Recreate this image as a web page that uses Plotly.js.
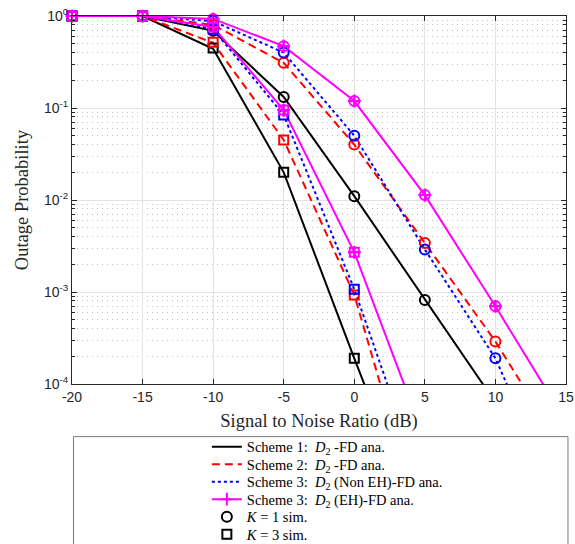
<!DOCTYPE html>
<html>
<head>
<meta charset="utf-8">
<script src="https://cdn.plot.ly/plotly-3.0.1.min.js"></script>
<style>
  html, body { margin: 0; padding: 0; background: #ffffff; }
  #chart { width: 575px; height: 544px; }
</style>
</head>
<body>
<div id="chart"></div>
<script>
// SNR grid (dB)
const snr = [-20, -15, -10, -5, 0, 5, 10, 15];

// Analytical outage probability, D2 full-duplex
const s1K1  = [1, 1, 0.69, 0.132, 0.011, 8.2e-4, 6.3e-5, 4.0e-6];
const s1K3  = [1, 1, 0.44, 0.020, 1.9e-4, 2.0e-6];
const s2K1  = [1, 1, 0.80, 0.31, 0.040, 0.0034, 2.9e-4, 1.7e-5];
const s2K3  = [1, 1, 0.51, 0.045, 9.3e-4, 2.2e-6];
const s3nK1 = [1, 1, 0.88, 0.40, 0.050, 0.0029, 1.9e-4, 3.5e-6];
const s3nK3 = [1, 1, 0.72, 0.084, 1.07e-3, 6.7e-6];
const s3eK1 = [1, 1, 0.93, 0.47, 0.119, 0.0113, 7.0e-4, 3.9e-5];
const s3eK3 = [1, 1, 0.76, 0.095, 0.0027, 2.5e-5];

// Monte-Carlo simulation points
const sim1K1  = [1, 1, 0.69, 0.132, 0.011, 8.2e-4];
const sim1K3  = [1, 1, 0.45, 0.020, 1.9e-4];
const sim2K1  = [1, 1, 0.80, 0.31, 0.040, 0.0034, 2.9e-4];
const sim2K3  = [1, 1, 0.52, 0.045, 9.3e-4];
const sim3nK1 = [1, 1, 0.88, 0.40, 0.050, 0.0029, 1.9e-4];
const sim3nK3 = [1, 1, 0.72, 0.084, 1.07e-3];
const sim3eK1 = [1, 1, 0.93, 0.47, 0.119, 0.0113, 7.0e-4];
const sim3eK3 = [1, 1, 0.76, 0.095, 0.0027];

// Axis ticks
const xTicks = [-20, -15, -10, -5, 0, 5, 10, 15];
const yTicks = [1e-4, 1e-3, 1e-2, 1e-1, 1];
const yTickText = ['10<sup>-4</sup>', '10<sup>-3</sup>', '10<sup>-2</sup>', '10<sup>-1</sup>', '10<sup>0</sup>'];

const legendNames = [
  'Scheme 1:  <i>D</i><sub>2</sub> -FD ana.',
  'Scheme 2:  <i>D</i><sub>2</sub> -FD ana.',
  'Scheme 3:  <i>D</i><sub>2</sub> (Non EH)-FD ana.',
  'Scheme 3:  <i>D</i><sub>2</sub> (EH)-FD ana.',
  '<i>K</i> = 1 sim.',
  '<i>K</i> = 3 sim.'
];

const BLACK = '#000000', RED = '#ff0000', BLUE = '#0000ff', MAG = '#ff00ff';
const YMIN = 1e-4;

const xs = arr => snr.slice(0, arr.length);
// keep only points inside the visible y-range (used for unclipped markers)
const inRange = arr => {
  const x = [], y = [];
  arr.forEach((v, i) => { if (v >= YMIN) { x.push(snr[i]); y.push(v); } });
  return { x, y };
};

const traces = [];

function anaLine(arr, color, dash, name, rank, show, withPlus) {
  const t = {
    x: xs(arr), y: arr, type: 'scatter',
    mode: withPlus ? 'lines+markers' : 'lines',
    line: { color: color, width: 2, dash: dash },
    name: name, legendgroup: name, showlegend: show, legendrank: rank,
    hoverinfo: 'x+y'
  };
  if (withPlus) {
    t.marker = { symbol: 'cross-thin-open', size: 9, color: color, line: { color: color, width: 2 } };
  }
  traces.push(t);
}

function simMarks(arr, color, symbol, size, name, rank, show) {
  const p = inRange(arr);
  traces.push({
    x: p.x, y: p.y, type: 'scatter', mode: 'markers', cliponaxis: false,
    marker: { symbol: symbol, size: size, color: color, line: { color: color, width: 2 } },
    name: name, showlegend: show, legendrank: rank, hoverinfo: 'x+y'
  });
}

// Scheme 1
anaLine(s1K1, BLACK, 'solid', legendNames[0], 1, true, false);
anaLine(s1K3, BLACK, 'solid', legendNames[0], 1, false, false);
// Scheme 2
anaLine(s2K1, RED, '8px,5px', legendNames[1], 2, true, false);
anaLine(s2K3, RED, '8px,5px', legendNames[1], 2, false, false);
// Scheme 3 (Non EH)
anaLine(s3nK1, BLUE, 'dot', legendNames[2], 3, true, false);
anaLine(s3nK3, BLUE, 'dot', legendNames[2], 3, false, false);
// Scheme 3 (EH)
anaLine(s3eK1, MAG, 'solid', legendNames[3], 4, true, true);
anaLine(s3eK3, MAG, 'solid', legendNames[3], 4, false, true);

// simulation markers
simMarks(sim1K1, BLACK, 'circle-open', 10, legendNames[4], 5, true);
simMarks(sim1K3, BLACK, 'square-open', 9, legendNames[5], 6, true);
simMarks(sim2K1, RED, 'circle-open', 10, 'S2 K1', 7, false);
simMarks(sim2K3, RED, 'square-open', 9, 'S2 K3', 7, false);
simMarks(sim3nK1, BLUE, 'circle-open', 10, 'S3n K1', 7, false);
simMarks(sim3nK3, BLUE, 'square-open', 9, 'S3n K3', 7, false);
simMarks(sim3eK1, MAG, 'circle-open', 10, 'S3e K1', 7, false);
simMarks(sim3eK3, MAG, 'square-open', 9, 'S3e K3', 7, false);
// plus markers of the EH curves, drawn unclipped on top
simMarks(s3eK1, MAG, 'cross-thin-open', 9, 'S3e K1 +', 7, false);
simMarks(s3eK3, MAG, 'cross-thin-open', 9, 'S3e K3 +', 7, false);

const tickFont = { family: 'Liberation Sans, Arial, sans-serif', size: 14, color: '#262626' };
const serif = 'Liberation Serif, Times New Roman, serif';

const layout = {
  width: 575, height: 544,
  margin: { l: 72, r: 9, t: 16, b: 160, autoexpand: false },
  paper_bgcolor: '#ffffff', plot_bgcolor: '#ffffff',
  showlegend: true,
  xaxis: {
    range: [-20, 15], tickmode: 'array', tickvals: xTicks,
    ticktext: xTicks.map(String),
    ticks: 'inside', ticklen: 5, tickcolor: '#262626',
    showline: true, linecolor: '#262626', linewidth: 1, mirror: 'allticks',
    showgrid: true, gridcolor: '#e2e2e2', gridwidth: 1, zeroline: false,
    tickfont: tickFont,
    title: { text: 'Signal to Noise Ratio (dB)', font: { family: serif, size: 18.5, color: '#262626' }, standoff: 10 }
  },
  yaxis: {
    type: 'log', range: [-4, 0], tickmode: 'array', tickvals: yTicks, ticktext: yTickText,
    ticks: 'inside', ticklen: 5, tickcolor: '#262626',
    showline: true, linecolor: '#262626', linewidth: 1, mirror: 'allticks',
    showgrid: true, gridcolor: '#e2e2e2', gridwidth: 1, zeroline: false,
    minor: { tickmode: 'linear', dtick: 'D1', ticks: 'inside', ticklen: 3, tickcolor: '#262626',
             showgrid: true, gridcolor: '#c2c2c2', griddash: '1px,4px', gridwidth: 1 },
    tickfont: tickFont,
    title: { text: 'Outage Probability', font: { family: serif, size: 18.5, color: '#262626' }, standoff: 10 }
  },
  legend: {
    x: 0.273, xanchor: 'left', y: -0.127, yanchor: 'top',
    bgcolor: 'rgba(0,0,0,0)', borderwidth: 0,
    font: { family: serif, size: 14.5, color: '#000000' },
    tracegroupgap: 0, itemclick: false
  },
  shapes: [{
    type: 'rect', xref: 'paper', yref: 'paper',
    x0: 0.003, x1: 1.004, y0: -0.143, y1: -0.6,
    line: { color: '#7a7a7a', width: 1 }, fillcolor: 'rgba(0,0,0,0)'
  }]
};

// tighter row pitch for the legend entries
function tightenLegend(gd, pitch) {
  const rows = gd.querySelectorAll('.legend .traces');
  let y0 = null;
  rows.forEach((g, i) => {
    const m = /translate\(\s*([-\d.e]+)[ ,]+([-\d.e]+)\s*\)/.exec(g.getAttribute('transform') || '');
    if (!m) return;
    if (y0 === null) { y0 = parseFloat(m[2]); }
    g.setAttribute('transform', 'translate(' + parseFloat(m[1]) + ',' + (y0 + i * pitch) + ')');
  });
  const bg = gd.querySelector('.legend .bg');
  if (bg) bg.style.display = 'none';
}

Plotly.newPlot('chart', traces, layout, { displayModeBar: false, staticPlot: true })
  .then(gd => tightenLegend(gd, 17.5));
</script>
</body>
</html>
